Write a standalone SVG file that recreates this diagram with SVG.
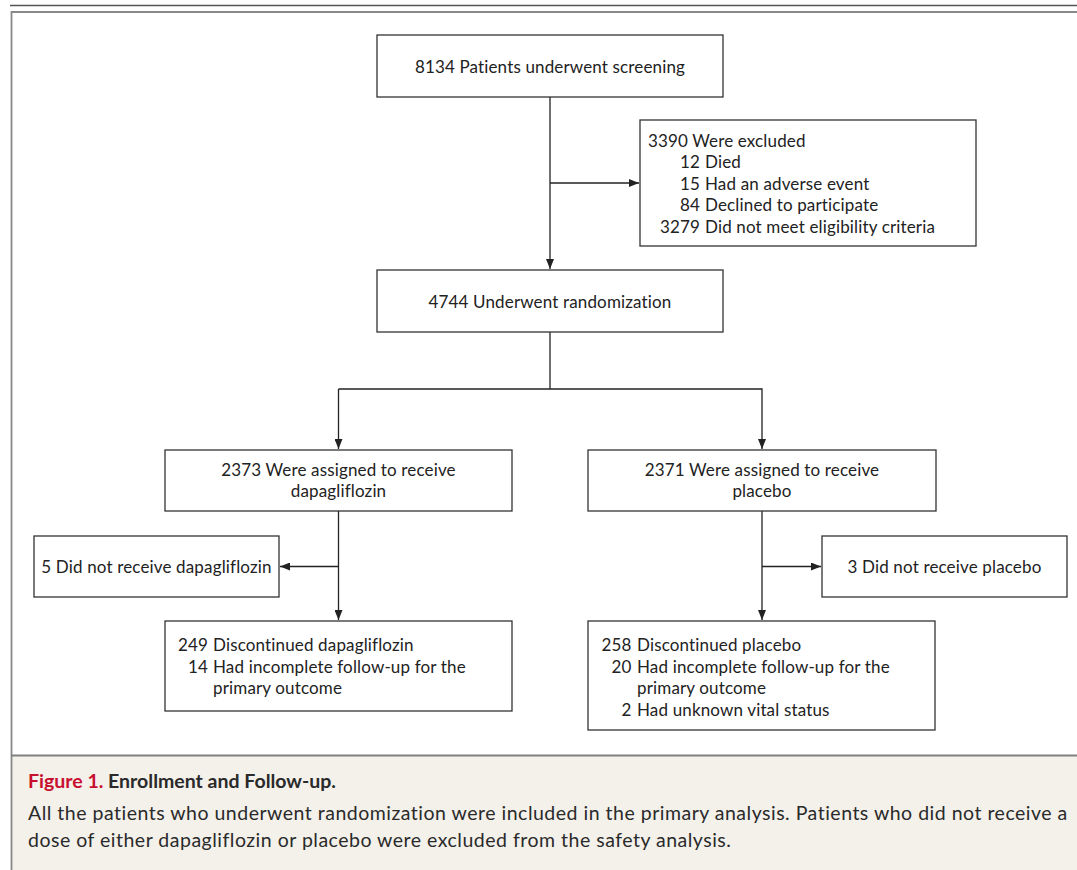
<svg xmlns="http://www.w3.org/2000/svg" width="1077" height="870" viewBox="0 0 1077 870">
<style>
.box{fill:#fff;stroke:#333;stroke-width:1.3}
.t{font-family:Lato,"Open Sans","Liberation Sans",sans-serif;font-size:17px;letter-spacing:0.15px;fill:#222}
.c{text-anchor:middle}
.e{text-anchor:end}
.ln{fill:none;stroke:#222;stroke-width:1.3}
.cap{font-family:Lato,"Open Sans","Liberation Sans",sans-serif;font-size:19.5px;fill:#2a2a2a}
</style>
<defs>
<marker id="ah" viewBox="0 0 10 8" refX="10" refY="4" markerWidth="10" markerHeight="8" markerUnits="userSpaceOnUse" orient="auto">
<path d="M0,0 L10,4 L0,8 Z" fill="#222"/>
</marker>
</defs>
<rect x="0" y="0" width="1077" height="870" fill="#fff"/>
<rect x="11" y="755" width="1066" height="115" fill="#f4f1eb"/>
<line x1="10" y1="5.5" x2="1077" y2="5.5" stroke="#555" stroke-width="1.6"/>
<line x1="11" y1="12" x2="1077" y2="12" stroke="#888" stroke-width="2"/>
<line x1="11.5" y1="11" x2="11.5" y2="870" stroke="#888" stroke-width="1.8"/>
<line x1="11" y1="755.5" x2="1077" y2="755.5" stroke="#808080" stroke-width="2.2"/>

<g id="connectors">
<line class="ln" x1="550" y1="97" x2="550" y2="269" marker-end="url(#ah)"/>
<line class="ln" x1="550" y1="183" x2="639" y2="183" marker-end="url(#ah)"/>
<polyline class="ln" points="550,332 550,389"/>
<polyline class="ln" points="338.5,389 762,389 762,449" marker-end="url(#ah)"/>
<line class="ln" x1="338.5" y1="389" x2="338.5" y2="449" marker-end="url(#ah)"/>
<line class="ln" x1="338.5" y1="511" x2="338.5" y2="620" marker-end="url(#ah)"/>
<line class="ln" x1="338.5" y1="566.5" x2="280" y2="566.5" marker-end="url(#ah)"/>
<line class="ln" x1="762" y1="511" x2="762" y2="620" marker-end="url(#ah)"/>
<line class="ln" x1="762" y1="566.5" x2="821" y2="566.5" marker-end="url(#ah)"/>
</g>

<g id="screening">
<rect class="box" x="377" y="35" width="346" height="62"/>
<text class="t c" x="550" y="73">8134 Patients underwent screening</text>
</g>

<g id="excluded">
<rect class="box" x="640" y="120" width="336" height="126"/>
<text class="t" x="648" y="146.5">3390 Were excluded</text>
<text class="t e" x="700" y="168">12</text><text class="t" x="705" y="168">Died</text>
<text class="t e" x="700" y="189.5">15</text><text class="t" x="705" y="189.5">Had an adverse event</text>
<text class="t e" x="700" y="211">84</text><text class="t" x="705" y="211">Declined to participate</text>
<text class="t e" x="700" y="232.5">3279</text><text class="t" x="705" y="232.5">Did not meet eligibility criteria</text>
</g>

<g id="randomization">
<rect class="box" x="377" y="270" width="346" height="62"/>
<text class="t c" x="550" y="307.5">4744 Underwent randomization</text>
</g>

<g id="dapa">
<rect class="box" x="165" y="450" width="347" height="61"/>
<text class="t c" x="338.5" y="475.5">2373 Were assigned to receive</text>
<text class="t c" x="338.5" y="497">dapagliflozin</text>
</g>

<g id="placebo">
<rect class="box" x="588" y="450" width="348" height="61"/>
<text class="t c" x="762" y="475.5">2371 Were assigned to receive</text>
<text class="t c" x="762" y="497">placebo</text>
</g>

<g id="no-dapa">
<rect class="box" x="34" y="536" width="245" height="61"/>
<text class="t c" x="156.5" y="572.5">5 Did not receive dapagliflozin</text>
</g>

<g id="no-placebo">
<rect class="box" x="822" y="536" width="245" height="61"/>
<text class="t c" x="944.5" y="572.5">3 Did not receive placebo</text>
</g>

<g id="disc-dapa">
<rect class="box" x="165" y="621" width="347" height="90"/>
<text class="t e" x="208" y="651">249</text><text class="t" x="213" y="651">Discontinued dapagliflozin</text>
<text class="t e" x="208" y="672.5">14</text><text class="t" x="213" y="672.5">Had incomplete follow-up for the</text>
<text class="t" x="213" y="694">primary outcome</text>
</g>

<g id="disc-placebo">
<rect class="box" x="588" y="621" width="347" height="109"/>
<text class="t e" x="631.5" y="651">258</text><text class="t" x="637" y="651">Discontinued placebo</text>
<text class="t e" x="631.5" y="672.5">20</text><text class="t" x="637" y="672.5">Had incomplete follow-up for the</text>
<text class="t" x="637" y="694">primary outcome</text>
<text class="t e" x="631.5" y="715.5">2</text><text class="t" x="637" y="715.5">Had unknown vital status</text>
</g>

<g id="caption">
<text class="cap" x="28" y="788.3" font-weight="bold"><tspan fill="#c8102e">Figure 1.</tspan> Enrollment and Follow-up.</text>
<text class="cap" x="28" y="820" letter-spacing="0.5">All the patients who underwent randomization were included in the primary analysis. Patients who did not receive a</text>
<text class="cap" x="28" y="847.3" letter-spacing="0.5">dose of either dapagliflozin or placebo were excluded from the safety analysis.</text>
</g>
</svg>
